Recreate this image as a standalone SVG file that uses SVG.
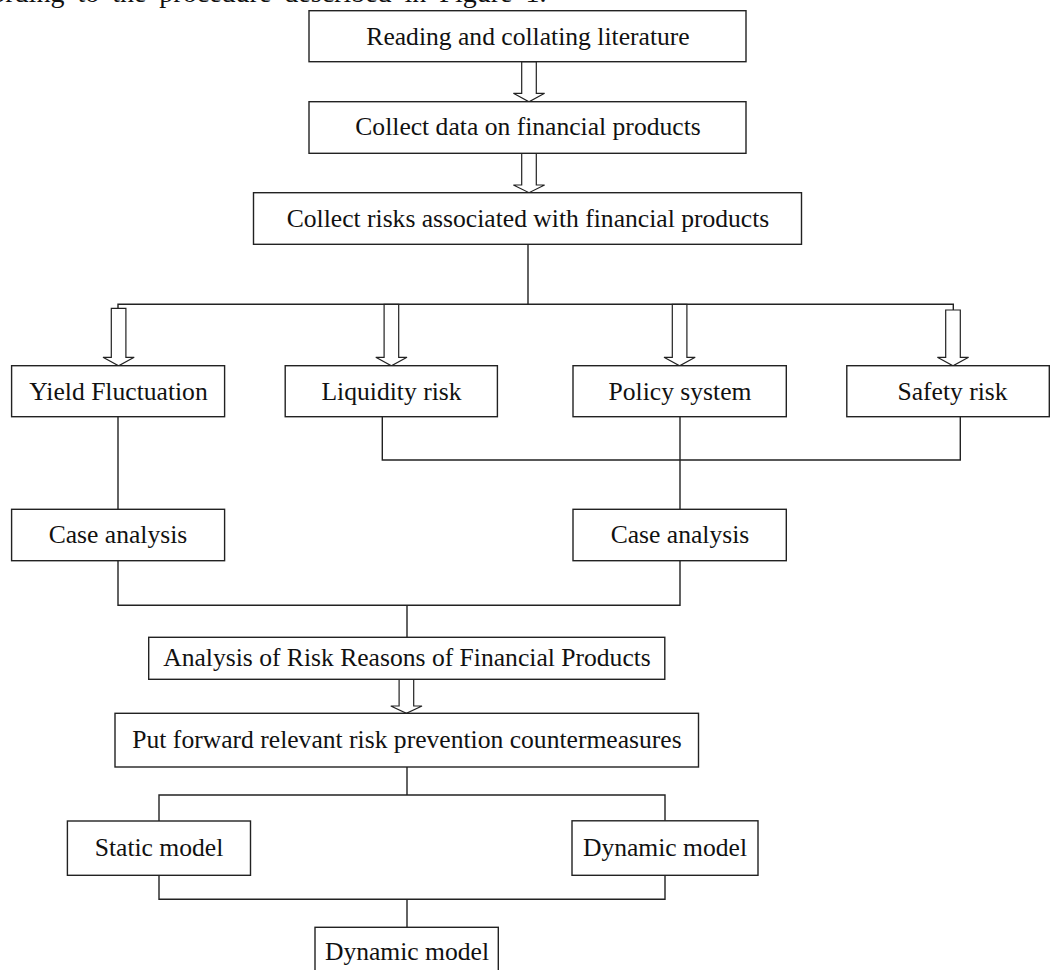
<svg xmlns="http://www.w3.org/2000/svg" width="1051" height="970" viewBox="0 0 1051 970">
<style>
.box{fill:#fff;stroke:#222;stroke-width:1.4}
.t{font-family:"Liberation Serif","Times New Roman",serif;font-size:25.6px;fill:#111;text-anchor:middle}
.ln{fill:none;stroke:#222;stroke-width:1.4}
.ar{fill:#fff;stroke:#222;stroke-width:1.2;stroke-linejoin:miter}
</style>
<rect width="1051" height="970" fill="#fff"/>
<text x="-46" y="2" font-family="Liberation Serif, Times New Roman, serif" font-size="28" word-spacing="6" fill="#111">according to the procedure described in Figure 1.</text>
<g id="connectors">
<path class="ln" d="M528,244.3 V304.3"/>
<path class="ln" d="M118,308.3 V304.3 H953.3 V310"/>
<path class="ln" d="M118,416.7 V509.3"/>
<path class="ln" d="M680,416.7 V509.3"/>
<path class="ln" d="M382.3,416.7 V460 H960.3 V416.7"/>
<path class="ln" d="M118,560.7 V605.3 H680 V560.7"/>
<path class="ln" d="M407,605.3 V637.3"/>
<path class="ln" d="M407,767 V795"/>
<path class="ln" d="M159,821 V795 H665 V820.8"/>
<path class="ln" d="M159,875.3 V899.3 H665 V875.3"/>
<path class="ln" d="M407,899.3 V927.3"/>
<polygon class="ar" points="521.7,61.7 521.7,93.3 513.4,93.3 529,101.7 544.6,93.3 536.3,93.3 536.3,61.7"/>
<polygon class="ar" points="521.7,153.3 521.7,185 513.4,185 529,192.7 544.6,185 536.3,185 536.3,153.3"/>
<polygon class="ar" points="111.3,308.3 111.3,357.3 103,357.3 118.6,365.7 134.2,357.3 125.9,357.3 125.9,308.3"/>
<polygon class="ar" points="384.1,304.3 384.1,357.3 375.8,357.3 391.4,365.7 407,357.3 398.7,357.3 398.7,304.3"/>
<polygon class="ar" points="672.3,304.3 672.3,357.3 664,357.3 679.6,365.7 695.2,357.3 686.9,357.3 686.9,304.3"/>
<polygon class="ar" points="945.7,310 945.7,357.3 937.4,357.3 953,365.7 968.6,357.3 960.3,357.3 960.3,310"/>
<polygon class="ar" points="399.1,679.3 399.1,706 390.8,706 406.4,713.3 422,706 413.7,706 413.7,679.3"/>
</g>
<g id="n1"><rect class="box" x="309" y="10.7" width="437" height="51"/><text class="t" x="528" y="44.5">Reading and collating literature</text></g>
<g id="n2"><rect class="box" x="309" y="101.7" width="437" height="51.6"/><text class="t" x="528" y="135.3">Collect data on financial products</text></g>
<g id="n3"><rect class="box" x="253.5" y="192.7" width="548" height="51.6"/><text class="t" x="528" y="226.8">Collect risks associated with financial products</text></g>
<g id="n4"><rect class="box" x="11.6" y="365.7" width="213" height="51"/><text class="t" x="118.5" y="399.5">Yield Fluctuation</text></g>
<g id="n5"><rect class="box" x="285.2" y="365.7" width="212.2" height="51"/><text class="t" x="391.5" y="399.5">Liquidity risk</text></g>
<g id="n6"><rect class="box" x="573" y="365.7" width="213.3" height="51"/><text class="t" x="680" y="399.5">Policy system</text></g>
<g id="n7"><rect class="box" x="846.8" y="365.7" width="202.5" height="51"/><text class="t" x="952.5" y="399.5">Safety risk</text></g>
<g id="n8"><rect class="box" x="11.6" y="509.3" width="213" height="51.4"/><text class="t" x="118" y="543.3">Case analysis</text></g>
<g id="n9"><rect class="box" x="573" y="509.3" width="213.3" height="51.4"/><text class="t" x="680" y="543.3">Case analysis</text></g>
<g id="n10"><rect class="box" x="148.7" y="637.3" width="516.1" height="42"/><text class="t" x="407" y="666.3">Analysis of Risk Reasons of Financial Products</text></g>
<g id="n11"><rect class="box" x="115" y="713.3" width="583.5" height="53.7"/><text class="t" x="407" y="748">Put forward relevant risk prevention countermeasures</text></g>
<g id="n12"><rect class="box" x="67.4" y="821" width="183.1" height="54.3"/><text class="t" x="159" y="856">Static model</text></g>
<g id="n13"><rect class="box" x="572" y="820.8" width="186" height="54.5"/><text class="t" x="665" y="856">Dynamic model</text></g>
<g id="n14"><rect class="box" x="315" y="927.3" width="183.3" height="60"/><text class="t" x="407" y="960">Dynamic model</text></g>
</svg>
